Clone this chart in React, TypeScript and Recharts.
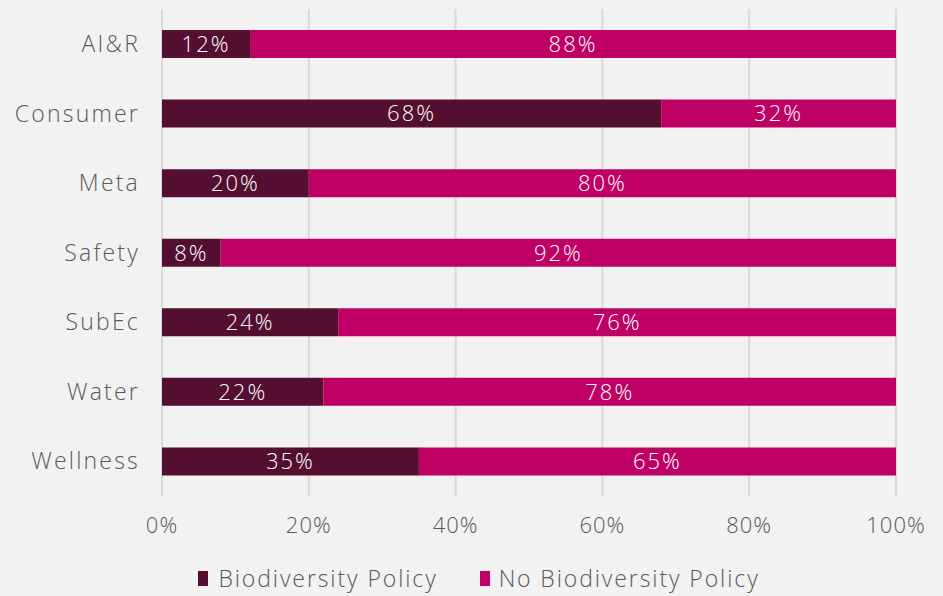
import React from 'react';
import { BarChart, Bar, XAxis, YAxis, CartesianGrid, Legend, LabelList } from 'recharts';

const categories = ['AI&R', 'Consumer', 'Meta', 'Safety', 'SubEc', 'Water', 'Wellness'];
const policy = [12, 68, 20, 8, 24, 22, 35];
const noPolicy = [88, 32, 80, 92, 76, 78, 65];
const xTicks = [0, 20, 40, 60, 80, 100];

const data = categories.map((c, i) => ({ name: c, policy: policy[i], noPolicy: noPolicy[i] }));

const FONT = '"Open Sans", sans-serif';
const TEXT = '#595959';
const W = 300;

const renderLegend = () => (
  <div style={{ display: 'flex', justifyContent: 'center', fontFamily: FONT, fontWeight: W, fontSize: 23, letterSpacing: 1.9, color: TEXT, gap: 42, paddingTop: 16, paddingLeft: 62, lineHeight: '28px' }}>
    <div style={{ display: 'flex', alignItems: 'center' }}>
      <span style={{ width: 10, height: 15, background: '#540e30', display: 'inline-block', marginRight: 10 }} />
      Biodiversity Policy
    </div>
    <div style={{ display: 'flex', alignItems: 'center' }}>
      <span style={{ width: 10, height: 15, background: '#be0064', display: 'inline-block', marginRight: 9 }} />
      No Biodiversity Policy
    </div>
  </div>
);

export default function App() {
  return (
    <div style={{ position: 'absolute', left: 0, top: 0, width: 943, height: 596, background: '#f2f2f2' }}>
      <BarChart
        width={943}
        height={596}
        data={data}
        layout="vertical"
        margin={{ top: 9, right: 47, left: 0, bottom: 0 }}
        barSize={28}
      >
        <CartesianGrid horizontal={false} stroke="#d9d9d9" strokeWidth={2} />
        <XAxis
          type="number"
          domain={[0, 100]}
          ticks={xTicks}
          tickFormatter={(v) => `${v}%`}
          axisLine={false}
          tickLine={false}
          tick={{ fill: TEXT, fontSize: 22, fontFamily: FONT, fontWeight: W, letterSpacing: 1 }}
          tickMargin={15}
          height={52}
        />
        <YAxis
          type="category"
          dataKey="name"
          width={162}
          axisLine={false}
          tickLine={false}
          tick={{ fill: TEXT, fontSize: 23, fontFamily: FONT, fontWeight: W, letterSpacing: 2.2 }}
          tickMargin={16}
        />
        <Legend verticalAlign="bottom" height={48} content={renderLegend} />
        <Bar dataKey="policy" name="Biodiversity Policy" stackId="a" fill="#540e30" isAnimationActive={false}>
          <LabelList dataKey="policy" position="center" formatter={(v: number) => `${v}%`} fill="#ffffff" style={{ fontSize: 22, fontFamily: FONT, fontWeight: W, letterSpacing: 2 }} />
        </Bar>
        <Bar dataKey="noPolicy" name="No Biodiversity Policy" stackId="a" fill="#be0064" isAnimationActive={false}>
          <LabelList dataKey="noPolicy" position="center" formatter={(v: number) => `${v}%`} fill="#ffffff" style={{ fontSize: 22, fontFamily: FONT, fontWeight: W, letterSpacing: 2 }} />
        </Bar>
      </BarChart>
    </div>
  );
}
